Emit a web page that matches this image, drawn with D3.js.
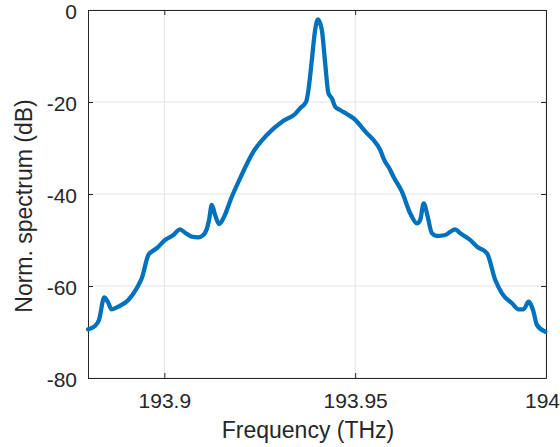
<!DOCTYPE html>
<html>
<head>
<meta charset="utf-8">
<script src="https://cdn.jsdelivr.net/npm/d3@7"></script>
<style>
  body { margin: 0; background: #fff; }
  text { font-family: "Liberation Sans", Arial, sans-serif; fill: #262626; }
</style>
</head>
<body>
<div id="chart"></div>
<script>
// frequency (THz) and normalized spectrum (dB)
const freq = [193.8800, 193.88184, 193.88288, 193.88427, 193.88516, 193.88621, 193.88794, 193.89057,
  193.89277, 193.89408, 193.89581, 193.89670, 193.89801, 193.90019, 193.90236, 193.90412,
  193.90543, 193.90719, 193.90892, 193.91023, 193.91112, 193.91172, 193.91243, 193.91330,
  193.91435, 193.91547, 193.91768, 193.91985, 193.92334, 193.92685, 193.93120, 193.93427,
  193.93558, 193.93716, 193.93776, 193.93865, 193.93951, 193.94025, 193.94127, 193.94214,
  193.94300, 193.94389, 193.94476, 193.94607, 193.94783, 193.94956, 193.95307, 193.95480,
  193.95656, 193.95742, 193.95918, 193.96004, 193.96225, 193.96442, 193.96618, 193.96704,
  193.96796, 193.96880, 193.97011, 193.97142, 193.97360, 193.97622, 193.97753, 193.98015,
  193.98191, 193.98453, 193.98671, 193.98846, 193.99109, 193.99282, 193.99413, 193.99544,
  193.99659, 193.99764, 193.99982]
const spectrum = [-69.41, -68.70, -67.39, -62.46, -63.41, -65.07, -64.50, -63.04,
  -60.50, -58.33, -53.26, -52.54, -51.80, -50.00, -48.91, -47.67,
  -48.41, -49.28, -49.41, -48.91, -47.61, -45.65, -42.39, -44.57,
  -46.52, -45.28, -40.59, -36.59, -30.80, -27.17, -24.07, -22.61,
  -21.37, -19.93, -17.39, -10.87, -4.35, -2.07, -4.35, -11.59,
  -18.11, -19.20, -21.02, -21.74, -22.61, -23.54, -26.80, -28.26,
  -30.43, -32.24, -34.78, -36.24, -39.50, -44.20, -46.37, -45.65,
  -42.02, -44.20, -48.54, -49.13, -48.91, -47.67, -48.54, -50.00,
  -51.46, -52.89, -58.70, -61.59, -63.76, -65.07, -65.07, -63.41,
  -65.22, -68.48, -69.93]

const xTicks = [193.9, 193.95, 194]
const yTicks = [-80, -60, -40, -20, 0]

const width = 560
const height = 447
const margin = {top: 10, right: 14, bottom: 69, left: 88}
const iw = width - margin.left - margin.right
const ih = height - margin.top - margin.bottom

var svg = d3.select("#chart").append("svg")
  .attr("width", width)
  .attr("height", height)

var g = svg.append("g").attr("transform", "translate(" + margin.left + "," + margin.top + ")")

var x = d3.scaleLinear().domain([193.88, 194]).range([0, iw])
var y = d3.scaleLinear().domain([-80, 0]).range([ih, 0])

// grid
g.append("g").selectAll("line").data(xTicks).enter().append("line")
  .attr("x1", d => x(d)).attr("x2", d => x(d))
  .attr("y1", 0).attr("y2", ih)
  .attr("stroke", "#e3e3e3").attr("stroke-width", 1)
g.append("g").selectAll("line").data(yTicks).enter().append("line")
  .attr("x1", 0).attr("x2", iw)
  .attr("y1", d => y(d)).attr("y2", d => y(d))
  .attr("stroke", "#e3e3e3").attr("stroke-width", 1)

// axes, ticks pointing inward, plain hyphen for minus
var plain = d => String(d)
var xAxis = g.append("g").attr("transform", "translate(0," + ih + ")")
  .call(d3.axisBottom(x).tickValues(xTicks).tickSizeInner(-5).tickSizeOuter(0).tickPadding(15).tickFormat(plain))
var xAxisTop = g.append("g")
  .call(d3.axisTop(x).tickValues(xTicks).tickSizeInner(-5).tickSizeOuter(0).tickFormat(""))
var yAxis = g.append("g")
  .call(d3.axisLeft(y).tickValues(yTicks).tickSizeInner(-5).tickSizeOuter(0).tickPadding(11).tickFormat(plain))
var yAxisRight = g.append("g").attr("transform", "translate(" + iw + ",0)")
  .call(d3.axisRight(y).tickValues(yTicks).tickSizeInner(-5).tickSizeOuter(0).tickFormat(""))

;[xAxis, xAxisTop, yAxis, yAxisRight].forEach(a => {
  a.select(".domain").attr("stroke", "#262626").attr("stroke-width", 1)
  a.selectAll(".tick line").attr("stroke", "#262626")
  a.selectAll("text").style("font-size", "21px").attr("fill", "#262626")
})
yAxis.selectAll("text").attr("dy", "0.42em")
// last x label sits at the window edge, nudge it in so it stays whole
xAxis.selectAll(".tick text").filter(d => d === 194).attr("dx", -4)

// curve
var line = d3.line()
  .x((d, i) => x(freq[i]))
  .y(d => y(d))
  .curve(d3.curveMonotoneX)

g.append("path")
  .datum(spectrum)
  .attr("d", line)
  .attr("fill", "none")
  .attr("stroke", "#0072BD")
  .attr("stroke-width", 4.3)
  .attr("stroke-linejoin", "round")
  .attr("stroke-linecap", "round")

// axis titles
svg.append("text")
  .attr("x", 308)
  .attr("y", 438)
  .attr("text-anchor", "middle")
  .style("font-size", "23px")
  .text("Frequency (THz)")

svg.append("text")
  .attr("transform", "translate(32,206) rotate(-90)")
  .attr("text-anchor", "middle")
  .style("font-size", "23px")
  .text("Norm. spectrum (dB)")
</script>
</body>
</html>
